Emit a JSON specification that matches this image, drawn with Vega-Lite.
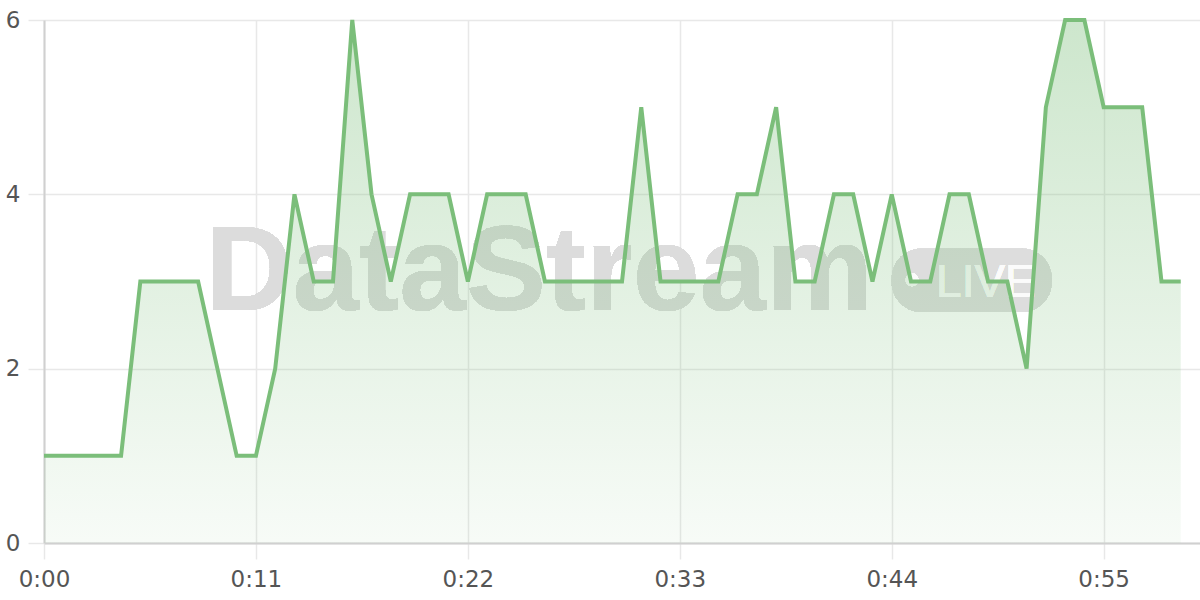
{
  "$schema": "https://vega.github.io/schema/vega-lite/v6.json",
  "width": 1156,
  "height": 523,
  "autosize": "none",
  "padding": {"left": 44, "top": 20, "right": 0, "bottom": 57},
  "background": "#ffffff",
  "config": {
    "view": {"stroke": null},
    "axis": {
      "labelFont": "DejaVu Sans",
      "labelFontSize": 23,
      "labelColor": "#555555",
      "gridColor": "#e8e8e8",
      "gridWidth": 1.5,
      "domainColor": "#d0d0d0",
      "domainWidth": 2,
      "tickColor": "#e8e8e8",
      "tickWidth": 1.5,
      "tickSize": 16,
      "title": null
    }
  },
  "data": {
    "values": [
      {"t": 0, "v": 1}, {"t": 1, "v": 1}, {"t": 2, "v": 1}, {"t": 3, "v": 1}, {"t": 4, "v": 1},
      {"t": 5, "v": 3}, {"t": 6, "v": 3}, {"t": 7, "v": 3}, {"t": 8, "v": 3}, {"t": 9, "v": 2},
      {"t": 10, "v": 1}, {"t": 11, "v": 1}, {"t": 12, "v": 2}, {"t": 13, "v": 4}, {"t": 14, "v": 3},
      {"t": 15, "v": 3}, {"t": 16, "v": 6}, {"t": 17, "v": 4}, {"t": 18, "v": 3}, {"t": 19, "v": 4},
      {"t": 20, "v": 4}, {"t": 21, "v": 4}, {"t": 22, "v": 3}, {"t": 23, "v": 4}, {"t": 24, "v": 4},
      {"t": 25, "v": 4}, {"t": 26, "v": 3}, {"t": 27, "v": 3}, {"t": 28, "v": 3}, {"t": 29, "v": 3},
      {"t": 30, "v": 3}, {"t": 31, "v": 5}, {"t": 32, "v": 3}, {"t": 33, "v": 3}, {"t": 34, "v": 3},
      {"t": 35, "v": 3}, {"t": 36, "v": 4}, {"t": 37, "v": 4}, {"t": 38, "v": 5}, {"t": 39, "v": 3},
      {"t": 40, "v": 3}, {"t": 41, "v": 4}, {"t": 42, "v": 4}, {"t": 43, "v": 3}, {"t": 44, "v": 4},
      {"t": 45, "v": 3}, {"t": 46, "v": 3}, {"t": 47, "v": 4}, {"t": 48, "v": 4}, {"t": 49, "v": 3},
      {"t": 50, "v": 3}, {"t": 51, "v": 2}, {"t": 52, "v": 5}, {"t": 53, "v": 6}, {"t": 54, "v": 6},
      {"t": 55, "v": 5}, {"t": 56, "v": 5}, {"t": 57, "v": 5}, {"t": 58, "v": 3}, {"t": 59, "v": 3}
    ]
  },
  "encoding": {
    "x": {
      "field": "t",
      "type": "quantitative",
      "scale": {"domain": [0, 60], "nice": false, "zero": false},
      "axis": {
        "values": [0, 11, 22, 33, 44, 55],
        "labelExpr": "'0:' + (datum.value < 10 ? '0' : '') + datum.value",
        "labelPadding": 9,
        "labelFlush": false
      }
    },
    "y": {
      "field": "v",
      "type": "quantitative",
      "scale": {"domain": [0, 6], "nice": false},
      "axis": {"values": [0, 2, 4, 6], "labelPadding": 8}
    }
  },
  "layer": [
    {
      "mark": {"type": "rect", "cornerRadius": 30, "color": "#dddddd"},
      "encoding": {
        "x": {"datum": 44.0},
        "x2": {"datum": 52.3},
        "y": {"datum": 3.38},
        "y2": {"datum": 2.65}
      }
    },
    {
      "mark": {
        "type": "text",
        "text": "DataStream",
        "font": "Liberation Sans",
        "fontWeight": "bold",
        "fontSize": 120,
        "align": "left",
        "baseline": "alphabetic",
        "color": "#dcdcdc"
      },
      "encoding": {"x": {"datum": 8.4}, "y": {"datum": 2.67}}
    },
    {
      "mark": {"type": "point", "filled": true, "shape": "circle", "size": 170, "color": "#fbfbfb", "opacity": 1},
      "encoding": {"x": {"datum": 45.05}, "y": {"datum": 3.02}}
    },
    {
      "mark": {
        "type": "text",
        "text": "LIVE",
        "font": "Liberation Sans",
        "fontSize": 46,
        "align": "left",
        "baseline": "alphabetic",
        "color": "#fbfbfb"
      },
      "encoding": {"x": {"datum": 46.3}, "y": {"datum": 2.82}}
    },
    {
      "mark": {
        "type": "area",
        "interpolate": "linear",
        "color": {
          "gradient": "linear",
          "x1": 0, "y1": 0, "x2": 0, "y2": 1,
          "stops": [
            {"offset": 0, "color": "rgba(123,190,122,0.38)"},
            {"offset": 1, "color": "rgba(123,190,122,0.06)"}
          ]
        }
      }
    },
    {
      "mark": {"type": "line", "interpolate": "linear", "color": "#7bbe7a", "strokeWidth": 4, "strokeJoin": "miter"}
    }
  ]
}
